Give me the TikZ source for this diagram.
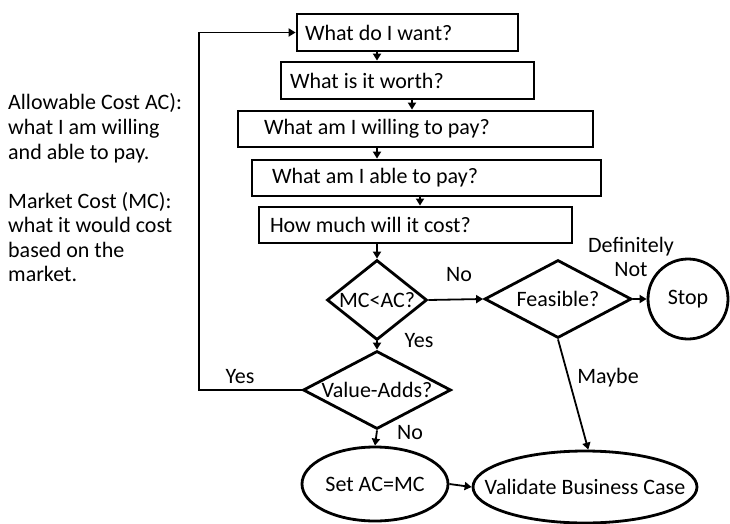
\documentclass[tikz,border=0pt]{standalone}
\usepackage{fontspec}
\setmainfont{Carlito}
\usetikzlibrary{shapes.geometric,arrows.meta,calc}

\tikzset{
  shape line/.style={draw=black, line width=2.8pt},
  qbox/.style={shape line, rectangle, inner ysep=0pt, minimum height=36pt},
  decision/.style={shape line, diamond, inner sep=0pt},
  terminal/.style={shape line, ellipse, inner sep=0pt},
  arr/.style={line width=1.8pt, -{Triangle[length=7pt,width=8pt]}},
  lbl/.style={inner sep=0pt},
  note/.style={anchor=base west, inner sep=0pt},
}

\begin{document}
\begin{tikzpicture}[x=1pt, y=-1pt, font=\fontsize{22}{24}\selectfont]
  \useasboundingbox (0,0) rectangle (730,524);

  % question boxes: text set flush left inside a fixed-width slot
  \node[qbox, minimum height=37pt, inner xsep=8pt] (b1) at (407.5,32.5) {\makebox[205pt][l]{What do I want?}};
  \node[qbox, minimum height=37pt, inner xsep=9pt] (b2) at (407.5,80.5) {\makebox[235pt][l]{What is it worth?}};
  \node[qbox, inner xsep=26pt] (b3) at (415.5,129) {\makebox[303pt][l]{What am I willing to pay?}};
  \node[qbox, inner xsep=20pt] (b4) at (426.5,178) {\makebox[309pt][l]{What am I able to pay?}};
  \node[qbox, inner xsep=11pt] (b5) at (415.5,225) {\makebox[291pt][l]{How much will it cost?}};

  % decisions
  \node[decision, minimum width=100pt, minimum height=80pt] (d1) at (377,300) {\makebox[0pt]{MC<AC?}};
  \node[decision, minimum width=148pt, minimum height=78pt] (d2) at (377,390) {\makebox[0pt]{Value-Adds?}};
  \node[decision, minimum width=147pt, minimum height=78pt] (d3) at (558,299) {\makebox[0pt]{Feasible?}};

  % end points
  \node[shape line, circle, minimum size=80pt, inner sep=0pt] (stop) at (688,299) {Stop};
  \node[terminal, minimum width=146pt, minimum height=74pt] (set) at (375,484) {\makebox[0pt]{Set AC=MC}};
  \node[terminal, minimum width=224pt, minimum height=72pt] (val) at (585,487) {\makebox[0pt]{Validate Business Case}};

  % flow
  \draw[arr] (b1.south -| 377,0) -- (b2.north -| 377,0);
  \draw[arr] (b2.south -| 412,0) -- (b3.north -| 412,0);
  \draw[arr] (b3.south -| 377,0) -- (b4.north -| 377,0);
  \draw[arr] (b4.south -| 420,0) -- (b5.north -| 420,0);
  \draw[arr] (b5.south -| d1) -- (d1.north);
  \draw[arr] (d1.south) -- (d2.north);
  \draw[arr] (d1.east) -- (d3.west);
  \draw[arr] (d3.east) -- (stop.west);
  \draw[arr] (d2.south) -- (set.north);
  \draw[arr] (set.east) -- (val.west);
  \draw[arr] (d3.south) -- (val.85);
  \draw[arr] (d2.west) -- ++(-103,0) |- (b1.west);

  % branch labels
  \node[lbl] (lno1) at (459,275) {No};
  \node[lbl] (lyes1) at (419,341) {Yes};
  \node[lbl] (lyes2) at (240,377) {Yes};
  \node[lbl] (lno2) at (410,433) {No};
  \node[lbl, align=center] (ldef) at (631,257) {Definitely\\Not};
  \node[lbl] (lmay) at (608,378) {Maybe};

  % definitions
  \node[note] (t1) at (8,110) {Allowable Cost AC):};
  \node[note] (t2) at (8,134.5) {what I am willing};
  \node[note] (t3) at (8,159) {and able to pay.};
  \node[note] (t4) at (8,208) {Market Cost (MC):};
  \node[note] (t5) at (8,232.5) {what it would cost};
  \node[note] (t6) at (8,257) {based on the};
  \node[note] (t7) at (8,281.5) {market.};
\end{tikzpicture}
\end{document}
